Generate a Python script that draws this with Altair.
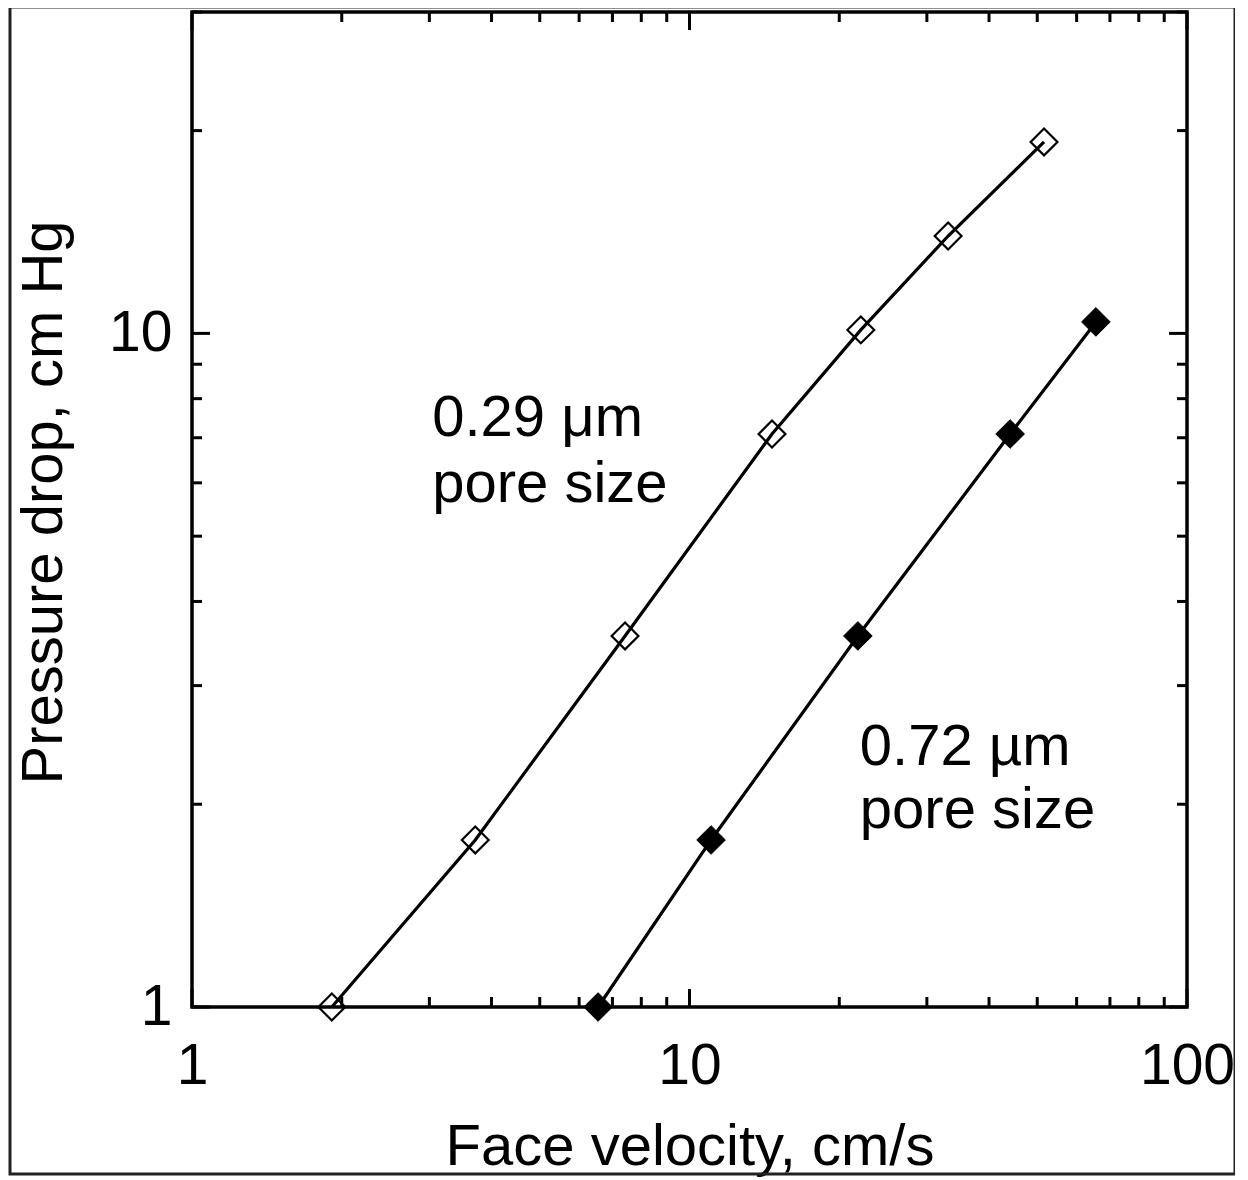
import altair as alt
import pandas as pd

# Series (log-log)
vel_029 = [1.91, 3.71, 7.42, 14.65, 22.1, 33.1, 51.6]
dp_029 = [1.0, 1.77, 3.555, 7.09, 10.12, 13.95, 19.24]
vel_072 = [6.55, 11.05, 21.8, 44.1, 65.6]
dp_072 = [1.0, 1.77, 3.555, 7.09, 10.40]

x_major = [1, 10, 100]
x_minor = [2, 3, 4, 5, 6, 7, 8, 9, 20, 30, 40, 50, 60, 70, 80, 90]
y_major = [1, 10]
y_minor = [2, 3, 4, 5, 6, 7, 8, 9, 20, 30]

ann_text = ["0.29 \u03bcm", "pore size", "0.72 \u00b5m", "pore size"]
ann_x = [3.04, 3.04, 22.0, 22.0]
ann_y = [7.03, 5.62, 2.29, 1.846]

W = 995
H = 995
FONT = "Liberation Sans"

df = pd.DataFrame({
    "v": vel_029 + vel_072,
    "p": dp_029 + dp_072,
    "s": ["0.29"] * len(vel_029) + ["0.72"] * len(vel_072),
})
ann = pd.DataFrame({"t": ann_text, "v": ann_x, "p": ann_y})

xs = alt.Scale(type="log", domain=[1, 100], nice=False)
ys = alt.Scale(type="log", domain=[1, 30], nice=False)

X = alt.X("v:Q", scale=xs, axis=alt.Axis(
    values=x_major, format="d", grid=False, ticks=False, tickSize=0, domain=False,
    labelFont=FONT, labelFontSize=57, labelColor="black", labelPadding=76,
    labelBaseline="alphabetic", labelFlush=False, labelOverlap=False,
    title="Face velocity, cm/s", titleFont=FONT, titleFontSize=58,
    titleFontWeight="normal", titleColor="black", titleX=W / 2, titleY=157,
    titleAlign="center", titleBaseline="alphabetic"))
Y = alt.Y("p:Q", scale=ys, axis=alt.Axis(
    values=y_major, format="d", grid=False, ticks=False, tickSize=0, domain=False,
    labelFont=FONT, labelFontSize=57, labelColor="black", labelPadding=20,
    labelBaseline="middle", labelFlush=False, labelOverlap=False,
    title="Pressure drop, cm Hg", titleFont=FONT, titleFontSize=58,
    titleFontWeight="normal", titleColor="black", titleAngle=270,
    titleX=-131, titleY=490, titleAlign="center", titleBaseline="alphabetic"))

base = alt.Chart(df)
lines = base.mark_line(color="black", strokeWidth=3.2).encode(x=X, y=Y, detail="s:N")
open_pts = base.transform_filter(alt.datum.s == "0.29").mark_point(
    shape="diamond", size=720, filled=False, stroke="black", strokeWidth=2.2, opacity=1
).encode(x=alt.X("v:Q", scale=xs), y=alt.Y("p:Q", scale=ys))
fill_pts = base.transform_filter(alt.datum.s == "0.72").mark_point(
    shape="diamond", size=820, filled=True, fill="black", stroke="black", strokeWidth=1, opacity=1
).encode(x=alt.X("v:Q", scale=xs), y=alt.Y("p:Q", scale=ys))

text = alt.Chart(ann).mark_text(
    font=FONT, fontSize=58, align="left", baseline="alphabetic", color="black"
).encode(x=alt.X("v:Q", scale=xs), y=alt.Y("p:Q", scale=ys), text="t:N")

MAJ, MIN = 18, 10
def xticks(vals, length):
    d = pd.DataFrame({"v": vals})
    bot = alt.Chart(d).mark_rule(color="black", strokeWidth=3).encode(
        x=alt.X("v:Q", scale=xs), y=alt.value(H), y2=alt.value(H - length))
    top = alt.Chart(d).mark_rule(color="black", strokeWidth=3).encode(
        x=alt.X("v:Q", scale=xs), y=alt.value(0), y2=alt.value(length))
    return [bot, top]

def yticks(vals, length):
    d = pd.DataFrame({"p": vals})
    left = alt.Chart(d).mark_rule(color="black", strokeWidth=3).encode(
        y=alt.Y("p:Q", scale=ys), x=alt.value(0), x2=alt.value(length))
    right = alt.Chart(d).mark_rule(color="black", strokeWidth=3).encode(
        y=alt.Y("p:Q", scale=ys), x=alt.value(W), x2=alt.value(W - length))
    return [left, right]

ticks = xticks(x_major, MAJ) + xticks(x_minor, MIN) + yticks(y_major, MAJ) + yticks(y_minor, MIN)

one = pd.DataFrame({"a": [0]})
plot_box = alt.Chart(one).mark_rect(
    fill=None, stroke="black", strokeWidth=3.5
).encode(x=alt.value(0), x2=alt.value(W), y=alt.value(0), y2=alt.value(H))

frame = alt.Chart(one).mark_rect(
    fill=None, stroke="#222", strokeWidth=3
).encode(x=alt.value(-182), x2=alt.value(1043), y=alt.value(-5), y2=alt.value(1162))

chart = alt.layer(lines, open_pts, fill_pts, text, *ticks, plot_box, frame).properties(
    width=W, height=H,
    autosize=alt.AutoSizeParams(type="none"),
    padding={"left": 184, "top": 4, "right": 48, "bottom": 170},
).configure_view(strokeWidth=0).configure(background="white")

chart.save("out.html", embed_options={"renderer": "svg", "actions": False})
